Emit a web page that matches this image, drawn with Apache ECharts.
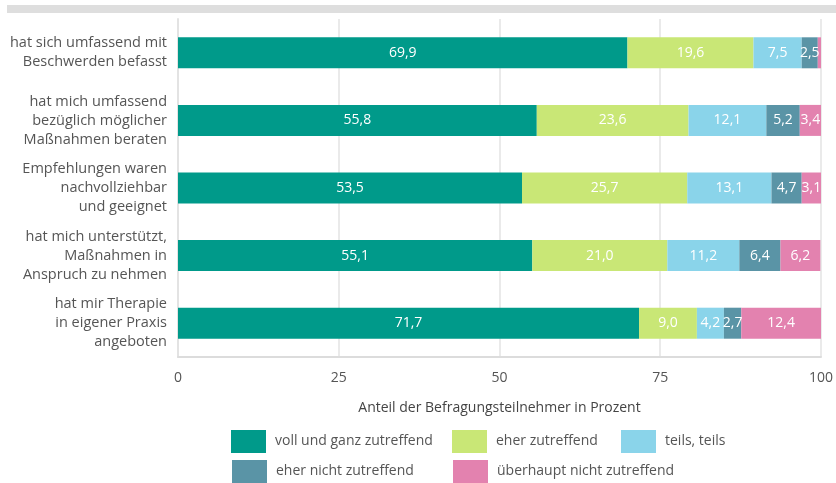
<!DOCTYPE html>
<html>
<head>
<meta charset="utf-8">
<script src="https://cdn.jsdelivr.net/npm/echarts@6/dist/echarts.min.js"></script>
<style>
  html, body { margin: 0; padding: 0; background: #fff; }
  #chart { width: 836px; height: 483px; }
</style>
</head>
<body>
<div id="chart"></div>
<script>
// Aussagen (von oben nach unten)
const categories = [
  'hat sich umfassend mit\nBeschwerden befasst',
  'hat mich umfassend\nbezüglich möglicher\nMaßnahmen beraten',
  'Empfehlungen waren\nnachvollziehbar\nund geeignet',
  'hat mich unterstützt,\nMaßnahmen in\nAnspruch zu nehmen',
  'hat mir Therapie\nin eigener Praxis\nangeboten'
];

const seriesNames = [
  'voll und ganz zutreffend',
  'eher zutreffend',
  'teils, teils',
  'eher nicht zutreffend',
  'überhaupt nicht zutreffend'
];

const vollUndGanz = [69.9, 55.8, 53.5, 55.1, 71.7];
const eherZu = [19.6, 23.6, 25.7, 21.0, 9.0];
const teilsTeils = [7.5, 12.1, 13.1, 11.2, 4.2];
const eherNicht = [2.5, 5.2, 4.7, 6.4, 2.7];
const ueberhauptNicht = [0.5, 3.4, 3.1, 6.2, 12.4];

const xTicks = [0, 25, 50, 75, 100];

const colors = ['#009a8a', '#c9e776', '#8ad4ea', '#5a94a6', '#e382af'];
const values = [vollUndGanz, eherZu, teilsTeils, eherNicht, ueberhauptNicht];

const fontFamily = '"Open Sans", "Noto Sans", sans-serif';

const chart = echarts.init(document.getElementById('chart'));

const fmt = v => v.toFixed(1).replace('.', ',');

// Legende: jede Position einzeln, damit die Spalten fluchten
const legendPos = [
  { left: 231, top: 430 },
  { left: 452, top: 430 },
  { left: 621, top: 430 },
  { left: 232, top: 460 },
  { left: 453, top: 460 }
];

chart.setOption({
  color: colors,
  textStyle: { fontFamily },
  animation: false,
  graphic: [{
    type: 'rect',
    shape: { x: 7, y: 5, width: 829, height: 8 },
    style: { fill: '#dedede' },
    silent: true
  }],
  legend: seriesNames.map((name, i) => ({
    data: [name],
    left: legendPos[i].left,
    top: legendPos[i].top,
    padding: 0,
    icon: 'rect',
    itemWidth: 35,
    itemHeight: 23,
    selectedMode: false,
    textStyle: { color: '#555', fontSize: 14, fontFamily, padding: [0, 0, 0, 4] }
  })),
  grid: { left: 178, right: 14, top: 19, bottom: 126 },
  xAxis: {
    type: 'value',
    min: 0,
    max: 100,
    interval: 25,
    name: 'Anteil der Befragungsteilnehmer in Prozent',
    nameLocation: 'middle',
    nameGap: 44,
    nameTextStyle: { color: '#444', fontSize: 14, fontFamily },
    axisLine: { show: true, lineStyle: { color: '#dcdcdc', width: 2 } },
    axisTick: { show: false },
    axisLabel: {
      color: '#555',
      fontSize: 14,
      margin: 14,
      formatter: v => (xTicks.includes(v) ? String(v) : '')
    },
    splitLine: { show: true, lineStyle: { color: '#e3e3e3', width: 1.5 } }
  },
  yAxis: {
    type: 'category',
    inverse: true,
    data: categories,
    axisLine: { show: true, lineStyle: { color: '#e3e3e3', width: 2 } },
    axisTick: { show: false },
    axisLabel: {
      color: '#555',
      fontSize: 14.5,
      lineHeight: 19,
      margin: 11,
      align: 'right'
    }
  },
  series: seriesNames.map((name, i) => ({
    name,
    type: 'bar',
    stack: 'total',
    barWidth: 31,
    data: values[i],
    label: {
      show: true,
      position: 'inside',
      color: '#fff',
      fontSize: 14,
      fontFamily,
      formatter: p => (p.value >= 1 ? fmt(p.value) : '')
    }
  }))
});
</script>
</body>
</html>
